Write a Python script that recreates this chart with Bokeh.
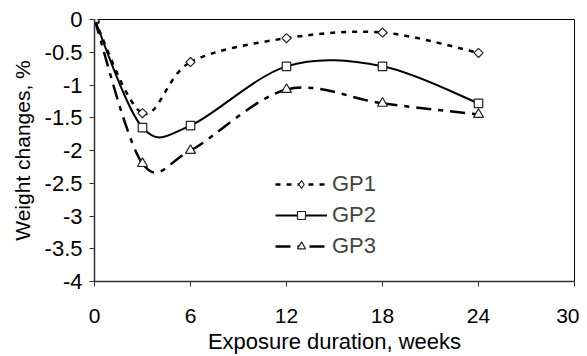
import math
from bokeh.plotting import figure
from bokeh.models import (FixedTicker, CustomJSTickFormatter, Legend, LegendItem,
                          ColumnDataSource)
from bokeh.embed import file_html
from bokeh.resources import INLINE

# ---- data ----
weeks = [0, 3, 6, 12, 18, 24]
gp1 = [0, -1.43, -0.65, -0.285, -0.20, -0.51]
gp2 = [0, -1.65, -1.62, -0.715, -0.715, -1.28]
gp3 = [0, -2.20, -2.00, -1.07, -1.28, -1.45]
series_names = ["GP1", "GP2", "GP3"]
x_ticks = [0, 6, 12, 18, 24, 30]
y_ticks = [0, -0.5, -1, -1.5, -2, -2.5, -3, -3.5, -4]

FONT = "Liberation Sans"

p = figure(width=579, height=356, output_backend="svg", toolbar_location=None,
           x_range=(0, 30), y_range=(-4, 0),
           min_border_left=94, min_border_right=5, min_border_top=19,
           min_border_bottom=72)
p.xgrid.visible = False
p.ygrid.visible = False
p.outline_line_color = "black"
p.outline_line_width = 1
p.background_fill_color = "white"
p.border_fill_color = "white"

for ax in (p.xaxis[0], p.yaxis[0]):
    ax.axis_line_color = "#333333"
    ax.axis_line_width = 1.5
    ax.major_tick_line_color = "#333333"
    ax.major_tick_in = 0
    ax.major_tick_out = 5
    ax.minor_tick_line_color = None
    ax.major_label_text_font = FONT
    ax.major_label_text_color = "black"
    ax.axis_label_text_font = FONT
    ax.axis_label_text_font_style = "normal"
    ax.axis_label_text_color = "black"

p.xaxis.major_label_text_font_size = "21px"
p.yaxis.major_label_text_font_size = "22px"
p.xaxis.axis_label_text_font_size = "22px"
p.yaxis.axis_label_text_font_size = "21px"
p.xaxis.ticker = FixedTicker(ticks=x_ticks)
p.yaxis.ticker = FixedTicker(ticks=y_ticks)
p.yaxis.formatter = CustomJSTickFormatter(code="return String(tick);")
p.xaxis.major_label_standoff = 22
p.yaxis.major_label_standoff = 7
p.xaxis.axis_label = "Exposure duration, weeks"
p.yaxis.axis_label = "Weight changes, %"
p.xaxis.axis_label_standoff = 3
p.yaxis.axis_label_standoff = 8


def smooth_segments(xs, ys):
    """Bezier control points for a smoothed line through the data points."""
    n = len(xs)
    out = dict(x0=[], y0=[], x1=[], y1=[], cx0=[], cy0=[], cx1=[], cy1=[])
    for i in range(n - 1):
        xm = xs[i - 1] if i > 0 else xs[i]
        ym = ys[i - 1] if i > 0 else ys[i]
        xp = xs[i + 2] if i + 2 < n else xs[i + 1]
        yp = ys[i + 2] if i + 2 < n else ys[i + 1]
        out["x0"].append(xs[i]); out["y0"].append(ys[i])
        out["x1"].append(xs[i + 1]); out["y1"].append(ys[i + 1])
        out["cx0"].append(xs[i] + (xs[i + 1] - xm) / 6)
        out["cy0"].append(ys[i] + (ys[i + 1] - ym) / 6)
        out["cx1"].append(xs[i + 1] - (xp - xs[i]) / 6)
        out["cy1"].append(ys[i + 1] - (yp - ys[i]) / 6)
    return out


styles = [
    dict(dash="5 6", width=2.5, marker="square", size=6.5, angle=math.pi / 4,
         leg_marker="diamond", leg_size=11),
    dict(dash="solid", width=2, marker="square", size=8.5, angle=0,
         leg_marker="square", leg_size=8.5),
    dict(dash="15 7 5 7", width=2.5, marker="triangle", size=10, angle=0,
         leg_marker="triangle", leg_size=10),
]

NAN = float("nan")
items = []
for name, ys, st in zip(series_names, [gp1, gp2, gp3], styles):
    seg = ColumnDataSource(smooth_segments(weeks, ys))
    p.bezier(x0="x0", y0="y0", x1="x1", y1="y1", cx0="cx0", cy0="cy0",
             cx1="cx1", cy1="cy1", source=seg, line_color="black",
             line_width=st["width"], line_dash=st["dash"])
    p.scatter(x=weeks, y=ys, marker=st["marker"], size=st["size"],
              angle=st["angle"], fill_color="white",
              line_color="#222222", line_width=1.2)
    leg_line = p.line(x=[NAN], y=[NAN], line_color="black",
                      line_width=st["width"], line_dash=st["dash"])
    leg_mark = p.scatter(x=[NAN], y=[NAN], marker=st["leg_marker"],
                         size=st["leg_size"], fill_color="white",
                         line_color="#222222", line_width=1.2)
    items.append(LegendItem(label=name, renderers=[leg_line, leg_mark]))

legend = Legend(items=items, location=(181, 22), padding=0, margin=0,
                spacing=5, glyph_width=52, glyph_height=20, label_height=20,
                label_standoff=5, label_text_font=FONT,
                label_text_font_size="22px", border_line_alpha=0,
                background_fill_alpha=0)
p.add_layout(legend)

open("out.html", "w").write(file_html(p, INLINE))
